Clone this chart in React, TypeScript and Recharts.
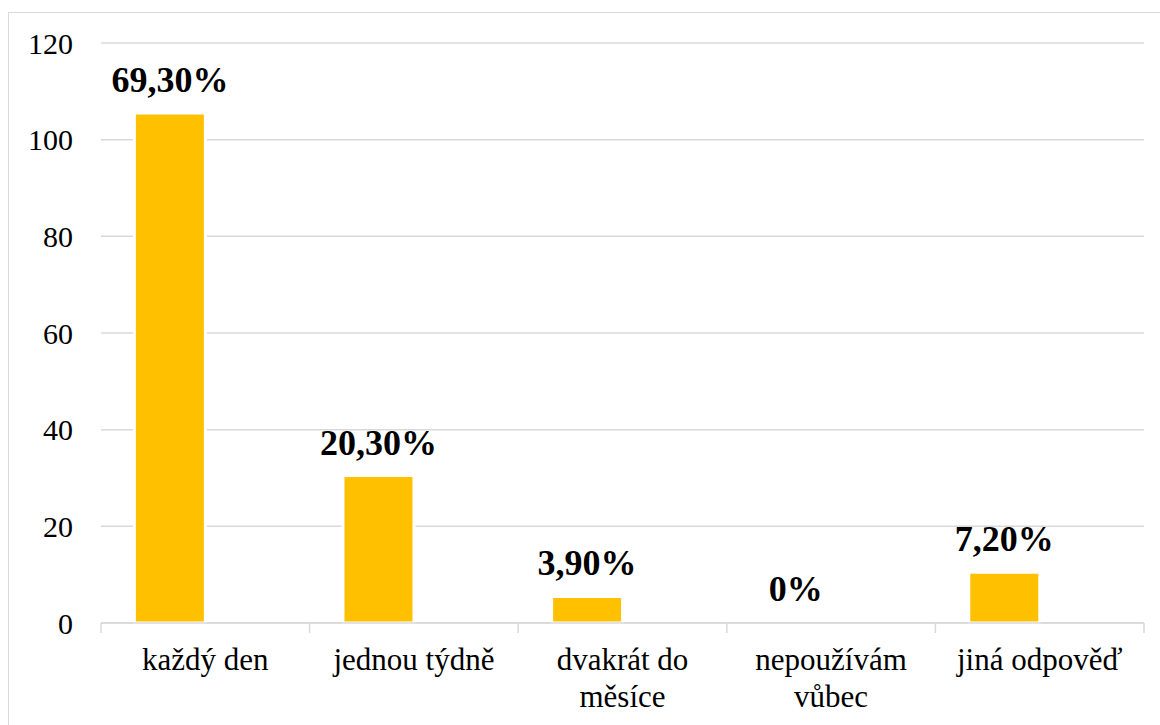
import { BarChart, Bar, XAxis, YAxis, CartesianGrid, LabelList, Rectangle } from 'recharts';

const categories = ['každý den', 'jednou týdně', 'dvakrát do měsíce', 'nepoužívám vůbec', 'jiná odpověď'];
const counts = [105.5, 30.5, 5.5, 0, 10.5];
const shares = ['69,30%', '20,30%', '3,90%', '0%', '7,20%'];
// the source chart keeps an empty second series, which pushes the bars left
const secondSeries = [null, null, null, null, null];
const yTicks = [0, 20, 40, 60, 80, 100, 120];

const data = categories.map((name, i) => ({
  name,
  count: counts[i],
  share: shares[i],
  second: secondSeries[i],
}));

const FONT = "'Times New Roman', 'Liberation Serif', 'DejaVu Serif', serif";
const GRID = '#d9d9d9';

// greedy word wrap, like the chart's category labels
const wrap = (label: string, maxChars = 13) => {
  const lines: string[] = [];
  let cur = '';
  label.split(' ').forEach((w) => {
    const next = cur ? cur + ' ' + w : w;
    if (next.length > maxChars && cur) {
      lines.push(cur);
      cur = w;
    } else {
      cur = next;
    }
  });
  if (cur) lines.push(cur);
  return lines;
};

// category label plus the tick marks between categories
const CategoryTick = ({ x, y, payload, index, visibleTicksCount, width }: any) => {
  const half = payload.offset || width / visibleTicksCount / 2;
  const last = index === visibleTicksCount - 1;
  return (
    <g>
      <line x1={x - half} x2={x - half} y1={y} y2={y + 10} stroke={GRID} strokeWidth={1.5} />
      {last && <line x1={x + half} x2={x + half} y1={y} y2={y + 10} stroke={GRID} strokeWidth={1.5} />}
      <text x={x} y={y} textAnchor="middle" fill="#000" style={{ fontSize: 31, fontFamily: FONT }}>
        {wrap(payload.value).map((line, i) => (
          <tspan key={i} x={x} dy={i === 0 ? 47 : 37}>
            {line}
          </tspan>
        ))}
      </text>
    </g>
  );
};

// the zero bar is not drawn, but still carries its label
const BarShape = (props: any) => (props.value === 0 ? <g /> : <Rectangle {...props} />);

const App = () => {
  return (
    <div
      style={{
        position: 'absolute',
        left: 8,
        top: 12,
        width: 1151,
        height: 712,
        borderTop: `1px solid ${GRID}`,
        borderLeft: `1px solid ${GRID}`,
        overflow: 'hidden',
        background: '#fff',
        fontFamily: FONT,
      }}
    >
      <BarChart
        width={1150}
        height={711}
        data={data}
        margin={{ top: 30, right: 15, left: 0, bottom: 0 }}
        barCategoryGap="16%"
        barGap={0}
      >
        <CartesianGrid vertical={false} stroke={GRID} strokeWidth={1.5} />
        <XAxis
          xAxisId="cat"
          dataKey="name"
          height={101}
          axisLine={{ stroke: GRID, strokeWidth: 1.5 }}
          tickLine={false}
          tickSize={0}
          tickMargin={0}
          interval={0}
          tick={<CategoryTick />}
        />
        <YAxis
          width={92}
          domain={[0, 120]}
          ticks={yTicks}
          axisLine={false}
          tickLine={false}
          tickSize={0}
          tickMargin={28}
          tick={{ fontSize: 30, fill: '#000', style: { fontFamily: FONT } }}
        />
        <Bar
          xAxisId="cat"
          dataKey="count"
          fill="#FFC000"
          stroke="#fff"
          strokeWidth={3}
          minPointSize={1}
          shape={<BarShape />}
          isAnimationActive={false}
        >
          <LabelList
            dataKey="share"
            position="top"
            offset={21}
            fill="#000"
            style={{ fontSize: 36, fontWeight: 'bold', fontFamily: FONT }}
          />
        </Bar>
        <Bar xAxisId="cat" dataKey="second" fill="#A5A5A5" isAnimationActive={false} />
      </BarChart>
    </div>
  );
};

export default App;
